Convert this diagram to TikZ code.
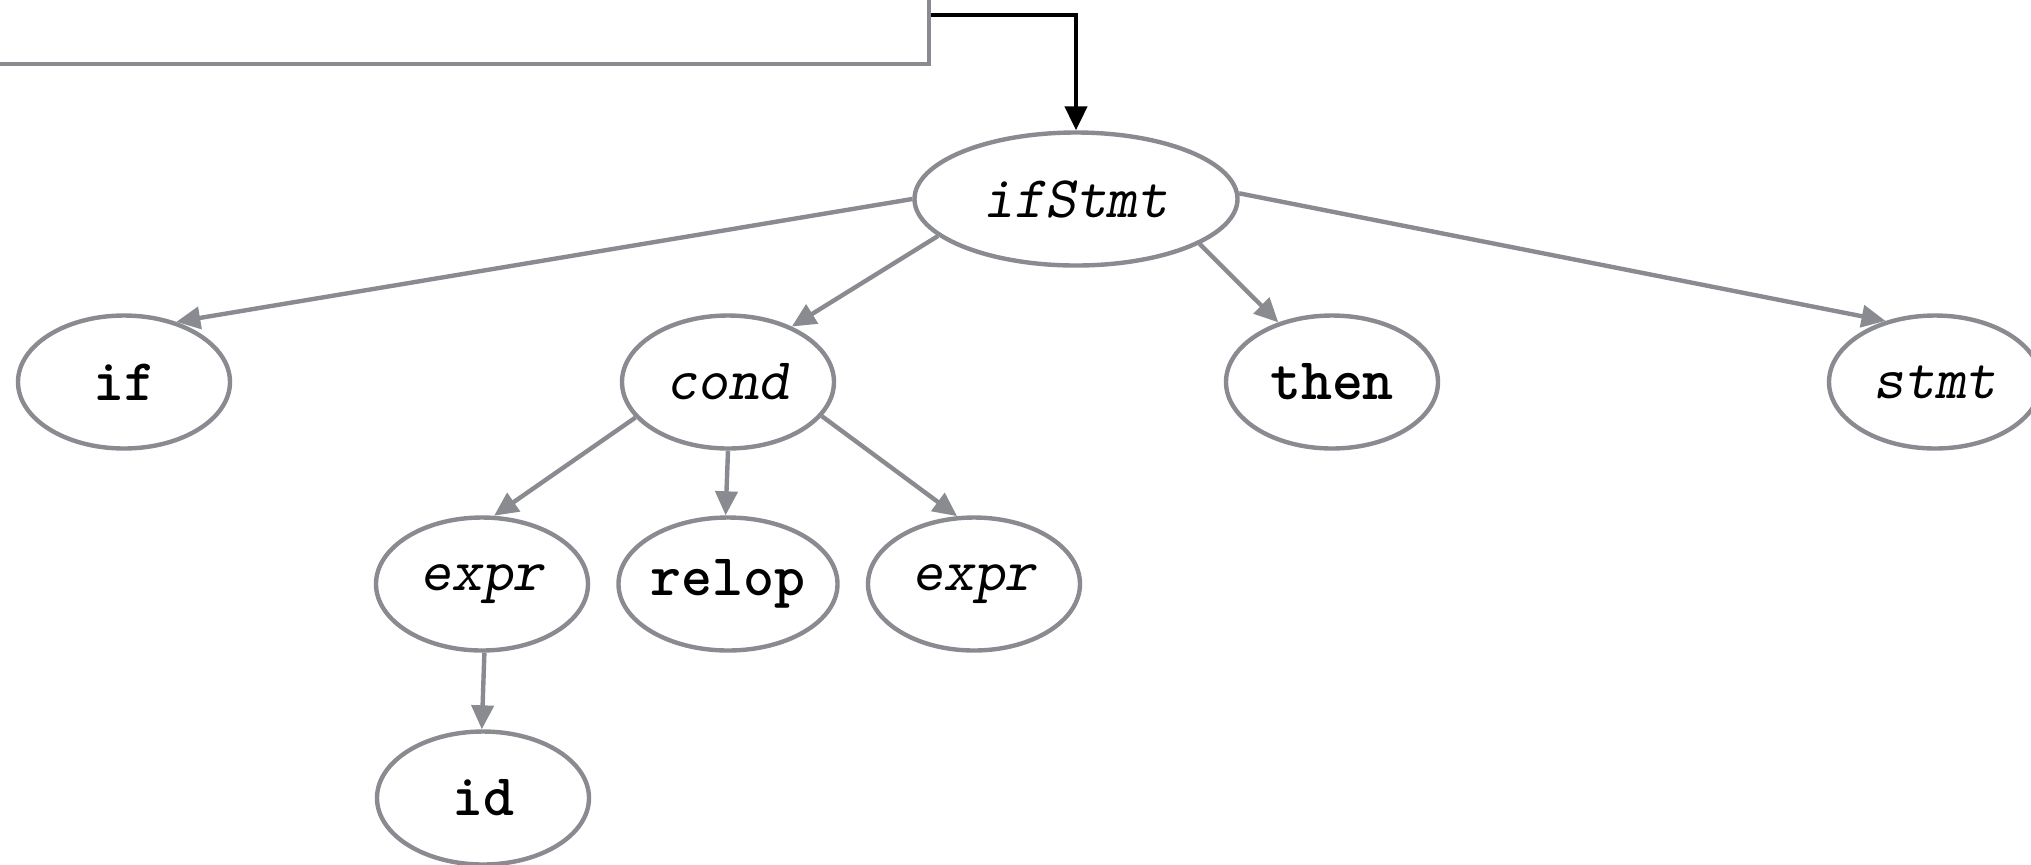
\documentclass[tikz,border=0pt]{standalone}
\usepackage{fontspec}
\setmonofont{lmmono10}[Extension=.otf,UprightFont=*-regular,ItalicFont=lmmonoslant10-regular,
  BoldFont=lmmonolt10-bold,BoldItalicFont=lmmonolt10-boldoblique]
\usetikzlibrary{arrows.meta,shapes.geometric}

\definecolor{edgegray}{RGB}{137,139,145}

\tikzset{
  nt/.style={ellipse,draw=edgegray,line width=2.2pt,fill=white,
    minimum width=106pt,minimum height=66.5pt,inner sep=0pt,
    font=\fontsize{29.5}{32}\selectfont\ttfamily\itshape},
  tm/.style={nt,font=\fontsize{29.5}{32}\selectfont\ttfamily\bfseries},
  tree/.style={draw=edgegray,line width=2.2pt,-{Triangle[length=12pt,width=11pt]}},
  flow/.style={draw=black,line width=2.2pt,-{Triangle[length=12pt,width=11pt]}}
}

\begin{document}
\begin{tikzpicture}[x=0.5pt,y=-0.5pt]
  \useasboundingbox (0,0) rectangle (2031,864);
  \clip (0,0) rectangle (2031,864);
  % box above, only its corner shows
  \node[draw=edgegray,line width=2.2pt,minimum width=600pt,minimum height=100pt,
    anchor=south east] (prev) at (931,66) {};
  \coordinate (exit) at (931,15);

  \node[nt,minimum width=161.5pt] (ifStmt) at (1076,199) {ifStmt};
  \node[tm] (if) at (124,382) {if};
  \node[nt] (cond) at (728,382) {cond};
  \node[tm] (then) at (1332,382) {then};
  \node[nt] (stmt) at (1935,382) {stmt};
  \node[nt] (expr1) at (482,584) {expr};
  \node[tm] (relop) at (728,584) {relop};
  \node[nt] (expr2) at (974,584) {expr};
  \node[tm] (id) at (483,798) {id};

  \draw[flow] (exit) -| (ifStmt.north);
  \draw[tree] (ifStmt.west) -- (if.49);
  \draw[tree] (ifStmt.195) -- (cond.41);
  \draw[tree] (ifStmt.340) -- (then.132);
  \draw[tree] (ifStmt.2) -- (stmt.129);
  \draw[tree] (cond.201) -- (expr1.80);
  \draw[tree] (cond.270) -- (relop.92);
  \draw[tree] (cond.340) -- (expr2.104);
  \draw[tree] (expr1.272) -- (id.91);
\end{tikzpicture}
\end{document}
